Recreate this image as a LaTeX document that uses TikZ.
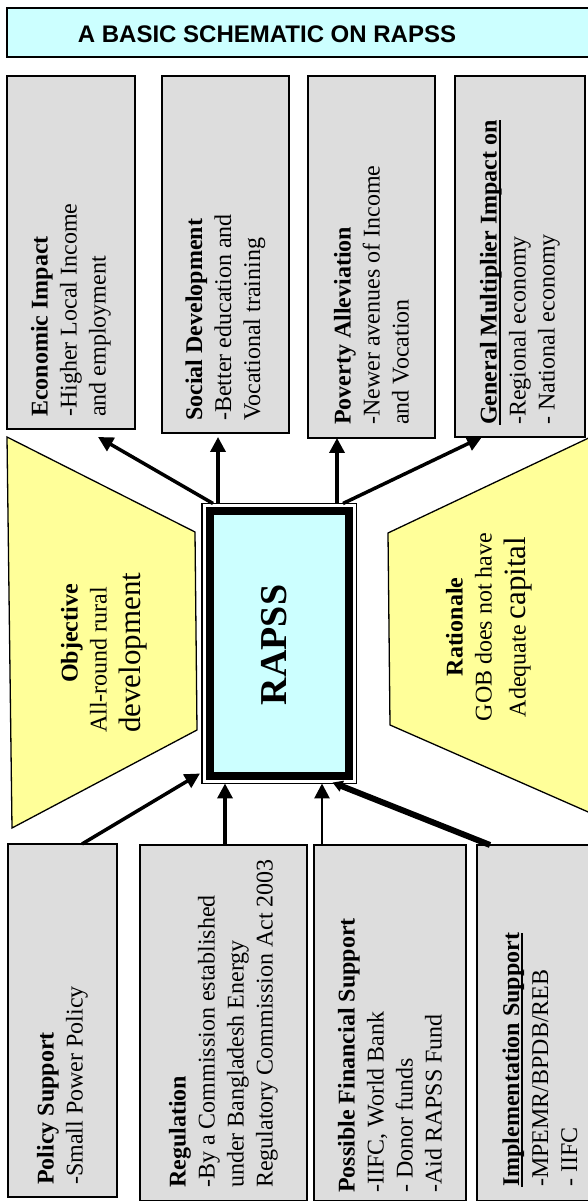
\documentclass[tikz,border=0pt]{standalone}
\usepackage{fontspec}
\setmainfont{Liberation Serif}
\setsansfont{Liberation Sans}
\usepackage{tikz}
\usetikzlibrary{arrows.meta,calc,fit}

\definecolor{boxgray}{HTML}{DDDDDD}
\definecolor{trapyellow}{HTML}{FFFF99}
\definecolor{rapsscyan}{HTML}{CCFFFF}

\def\ulhead#1{\setbox0\hbox{\textbf{#1}}\rlap{\rule[-4pt]{\wd0}{2pt}}\box0}

\tikzset{
	infobox/.style={draw, fill=boxgray, line width=1.3pt, inner sep=0pt, outer sep=0pt},
	boxtext/.style={rotate=90, anchor=west, align=left, inner sep=0pt, font=\fontsize{24}{29}\selectfont},
	trap/.style={draw, fill=trapyellow, line width=1.3pt},
	arr/.style={line width=3.5pt, -{Triangle[length=15pt,width=15pt]}}
}

\begin{document}
\begin{tikzpicture}[x=1pt, y=1pt]
			%%%%% START %%%%%
			\useasboundingbox (0,0) rectangle (588,1201);
			
			\node[infobox, line width=1.6pt, fill=rapsscyan, minimum width=588pt, minimum height=49pt] (title) at (301,1168.5) {};
			\node[inner sep=0pt, font=\fontsize{24}{29}\selectfont\sffamily\bfseries] (title-t) at ([xshift=-34pt,yshift=-1.5pt]title.center) {A BASIC SCHEMATIC ON RAPSS};
			
			\draw[trap] (7,764) -- (195,669) -- (197,471) -- (12,373) -- cycle;
			\draw[trap] (388,668) -- (595,766) -- (595,386) -- (390,476) -- cycle;
			\node[boxtext] (objective) at (104,468) {\hspace*{50pt}\textbf{Objective}\\All-round rural\\[5pt]{\fontsize{31}{32}\selectfont development}};
			\node[boxtext, anchor=center, align=center] (rationale) at (489,574) {\textbf{Rationale}\\GOB does not have\\[5pt]Adequate {\fontsize{31}{32}\selectfont capital}};
			
			\node[infobox, minimum width=128pt, minimum height=353pt] (econ) at (71,948.5) {};
			\node[infobox, minimum width=127pt, minimum height=357pt] (social) at (225.5,946.5) {};
			\node[infobox, minimum width=127pt, minimum height=362pt] (poverty) at (371.5,944) {};
			\node[infobox, minimum width=130pt, minimum height=361pt] (multiplier) at (520,944.5) {};
			\node[boxtext] (econ-t) at ([yshift=12pt]econ.south) {\textbf{Economic Impact}\\-Higher Local Income\\and employment};
			\node[boxtext] (social-t) at ([yshift=12pt]social.south) {\textbf{Social Development}\\-Better education and\\Vocational training};
			\node[boxtext] (poverty-t) at ([yshift=13pt]poverty.south) {\textbf{Poverty Alleviation}\\-Newer avenues of Income\\and Vocation};
			\node[boxtext] (multiplier-t) at ([yshift=12pt]multiplier.south) {\ulhead{General Multiplier Impact on}\\-Regional economy\\- National economy};
			
			\node[infobox, minimum width=109pt, minimum height=353pt] (policy) at (62.5,180.5) {};
			\node[infobox, minimum width=167pt, minimum height=355.5pt] (regulation) at (223.5,178.25) {};
			\node[infobox, minimum width=152pt, minimum height=355.5pt] (finance) at (390,178.25) {};
			\node[infobox, minimum width=126pt, minimum height=355.5pt] (implement) at (540,178.25) {};
			\node[boxtext] (policy-t) at ([yshift=12pt]policy.south) {\textbf{Policy Support}\\-Small Power Policy};
			\node[boxtext] (regulation-t) at ([yshift=12.5pt]regulation.south) {\textbf{Regulation}\\-By a Commission established\\under Bangladesh Energy\\Regulatory Commission Act 2003};
			\node[boxtext] (finance-t) at ([yshift=7.5pt]finance.south) {\textbf{Possible Financial Support}\\-IIFC, World Bank\\- Donor funds\\-Aid RAPSS Fund};
			\node[boxtext] (implement-t) at ([yshift=13.5pt]implement.south) {\ulhead{Implementation Support}\\-MPEMR/BPDB/REB\\- IIFC};
			
			\node[draw, line width=8pt, fill=rapsscyan, inner sep=0pt, outer sep=0pt, minimum width=139.5pt, minimum height=265pt] (rapss) at (279.25,557.5) {};
			\node[draw, line width=1.3pt, inner sep=7.5pt, outer sep=0pt, fit=(rapss)] (frame) {};
			\node[rotate=90, inner sep=0pt, font=\fontsize{38}{40}\selectfont\bfseries] (rapss-t) at ([xshift=-5pt,yshift=-1.5pt]rapss.center) {RAPSS};
			
			\draw[arr] ([xshift=11pt]frame.north west) -- ([xshift=27pt,yshift=-8pt]econ.south);
			\draw[arr] ([xshift=16pt]frame.north west) -- ([xshift=-7.5pt,yshift=-4pt]social.south);
			\draw[arr] ([xshift=-19.5pt]frame.north east) -- ([xshift=-34.5pt]poverty.south);
			\draw[arr] ([xshift=-13.5pt]frame.north east) -- ([xshift=-38pt]multiplier.south);
			
			\draw[arr] ([xshift=19.5pt]policy.north) -- ([xshift=-2pt,yshift=10pt]frame.south west);
			\draw[arr] ([xshift=1.5pt]regulation.north) -- ([xshift=23pt]frame.south west);
			\draw[arr, line width=2.8pt] ([xshift=-68pt]finance.north) -- ([xshift=-34.5pt]frame.south east);
			\draw[line width=6pt, -{Triangle[length=10pt,width=11pt]}] ([xshift=13pt]implement.north west) -- ([xshift=-24pt,yshift=1pt]frame.south east);
			
			%%%%% END %%%%%
\end{tikzpicture}
\end{document}
